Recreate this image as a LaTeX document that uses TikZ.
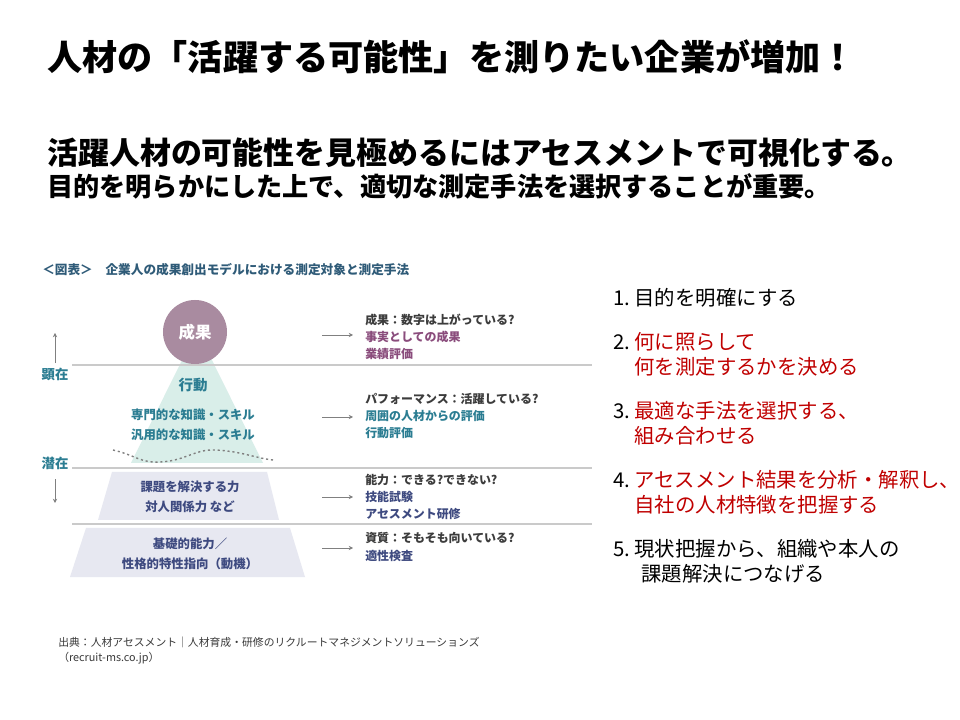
\documentclass[tikz,border=0pt]{standalone}
\usepackage{fontspec}
\setmainfont{Noto Sans CJK JP}
\usetikzlibrary{positioning, arrows.meta}

\definecolor{seikamauve}{HTML}{A98BA0}
\definecolor{kodoteal}{HTML}{D9EEE9}
\definecolor{nouryokulav}{HTML}{E7E8F1}
\definecolor{tealtext}{HTML}{2B7D92}
\definecolor{navytext}{HTML}{3E4A80}
\definecolor{mauvetext}{HTML}{8A4C7C}
\definecolor{headtext}{HTML}{2F5B78}
\definecolor{listred}{HTML}{C00000}
\definecolor{rulegray}{HTML}{CACACA}
\definecolor{askgray}{HTML}{3C3C3C}
\definecolor{notegray}{HTML}{3A3A3A}

\newcommand{\pxfont}[2]{\fontsize{#1}{#2}\selectfont}
\newcommand{\stepno}[1]{\makebox[0.53cm][l]{#1.}}
\newcommand{\stepindent}{\hspace*{0.53cm}}

\begin{document}
\begin{tikzpicture}[x=0.025cm, y=-0.025cm,
    txt/.style={inner sep=0pt, anchor=west},
    headline/.style={txt, font=\pxfont{25pt}{30pt}\bfseries},
    leadbig/.style={txt, font=\pxfont{22pt}{26pt}\bfseries},
    leadsmall/.style={txt, font=\pxfont{18.6pt}{22pt}\bfseries},
    figcap/.style={txt, headtext, font=\pxfont{9pt}{11pt}\bfseries},
    figtext/.style={inner sep=0pt, align=center, font=\pxfont{8.8pt}{14.2pt}\bfseries},
    methtext/.style={txt, align=left, font=\pxfont{8.5pt}{12.1pt}\bfseries},
    sidelabel/.style={inner sep=0pt, tealtext, font=\pxfont{9.5pt}{11pt}\bfseries},
    listitem/.style={txt, align=left, font=\pxfont{14.5pt}{17.8pt}},
    srcnote/.style={txt, align=left, notegray, font=\pxfont{7.7pt}{10.7pt}},
    levelrule/.style={rulegray, line width=1pt},
    measarrow/.style={gray, line width=0.5pt, -{Stealth[length=3pt,width=3pt]}},
  ]
    \useasboundingbox[fill=white] (0,0) rectangle (960,720);

    % the headings
    \node[headline] (title) at (47,57) {人材の「活躍する可能性」を測りたい企業が増加！};
    \node[leadbig] (lead1) at (47,153) {活躍人材の可能性を見極めるにはアセスメントで可視化する。};
    \node[leadsmall] (lead2) at (47,186) {目的を明らかにした上で、適切な測定手法を選択することが重要。};

    % figure caption
    \node[figcap] (figcap) at (42,270) {＜図表＞　企業人の成果創出モデルにおける測定対象と測定手法};

    % the pyramid
    \fill[kodoteal] (197,330) -- (263,463) -- (131,463) -- cycle;
    \draw[gray, line width=1pt, dash pattern=on 1.5pt off 2pt]
        (113,450) .. controls (135,455) and (140,463) .. (160,462)
        .. controls (185,461) and (195,449) .. (215,450)
        .. controls (240,451) and (255,458) .. (273,460);
    \fill[nouryokulav] (112,472) -- (267,472) -- (279,520) -- (98,520) -- cycle;
    \fill[nouryokulav] (86,528) -- (290,528) -- (305,577) -- (70,577) -- cycle;

    % level lines
    \draw[levelrule] (72,365) -- (592,365);
    \draw[levelrule] (72,468) -- (592,468);
    \draw[levelrule] (72,524) -- (592,524);

    % top of the pyramid
    \node[circle, fill=seikamauve, minimum size=1.6cm, inner sep=0pt,
          text=white, font=\pxfont{11.7pt}{14pt}\bfseries] (seika) at (195,332) {成果};

    \node[figtext, tealtext, font=\pxfont{10.3pt}{12pt}\bfseries] (kodo) at (193,385) {行動};
    \node[figtext, tealtext] (chishiki) at (193,425) {専門的な知識・スキル\\汎用的な知識・スキル};
    \node[figtext, navytext] (kadai) at (190,497) {課題を解決する力\\対人関係力 など};
    \node[figtext, navytext] (kiso) at (190,553.5) {基礎的能力／\\性格的特性指向（動機）};

    % visible / hidden
    \node[sidelabel] (kenzai) at (55,374) {顕在};
    \node[sidelabel] (senzai) at (55,463) {潜在};
    \coordinate (kenzaiup) at (55,333);
    \coordinate (senzaidown) at (55,503);
    \draw[measarrow, shorten <=3pt] (kenzai) -- (kenzaiup);
    \draw[measarrow, shorten <=7pt] (senzai) -- (senzaidown);

    % measuring methods
    \node[methtext] (seikameth) at (365,337)
        {\textcolor{askgray}{成果：数字は上がっている?}\\\textcolor{mauvetext}{事実としての成果}\\\textcolor{mauvetext}{業績評価}};
    \node[methtext] (kodometh) at (365,416)
        {\textcolor{askgray}{パフォーマンス：活躍している?}\\\textcolor{tealtext}{周囲の人材からの評価}\\\textcolor{tealtext}{行動評価}};
    \node[methtext] (kadaimeth) at (365,497)
        {\textcolor{askgray}{能力：できる?できない?}\\\textcolor{navytext}{技能試験}\\\textcolor{navytext}{アセスメント研修}};
    \node[methtext] (kisometh) at (365,547)
        {\textcolor{askgray}{資質：そもそも向いている?}\\\textcolor{navytext}{適性検査}};

    \coordinate (seikafrom) at (322,335);
    \coordinate (kodofrom) at (322,417);
    \coordinate (kadaifrom) at (322,497);
    \coordinate (kisofrom) at (322,548);
    \draw[measarrow] (seikafrom) -- ([xshift=-12*0.025cm]seikafrom -| seikameth.west);
    \draw[measarrow] (kodofrom) -- ([xshift=-12*0.025cm]kodofrom -| kodometh.west);
    \draw[measarrow] (kadaifrom) -- ([xshift=-12*0.025cm]kadaifrom -| kadaimeth.west);
    \draw[measarrow] (kisofrom) -- ([xshift=-12*0.025cm]kisofrom -| kisometh.west);

    % source
    \node[srcnote] (source) at (58,650.5)
        {出典：人材アセスメント｜人材育成・研修のリクルートマネジメントソリューションズ\\（recruit-ms.co.jp）};

    % the steps on the right
    \node[listitem] (goal1) at (613,298) {\stepno{1}目的を明確にする};
    \node[listitem] (goal2) at (613,354.5)
        {\stepno{2}\textcolor{listred}{何に照らして}\\\stepindent\textcolor{listred}{何を測定するかを決める}};
    \node[listitem] (goal3) at (613,423.5)
        {\stepno{3}\textcolor{listred}{最適な手法を選択する、}\\\stepindent\textcolor{listred}{組み合わせる}};
    \node[listitem] (goal4) at (613,492.5)
        {\stepno{4}\textcolor{listred}{アセスメント結果を分析・解釈し、}\\\stepindent\textcolor{listred}{自社の人材特徴を把握する}};
    \node[listitem] (goal5) at (613,561.5)
        {\stepno{5}現状把握から、組織や本人の\\\stepindent\hspace{5pt}課題解決につなげる};
\end{tikzpicture}
\end{document}
